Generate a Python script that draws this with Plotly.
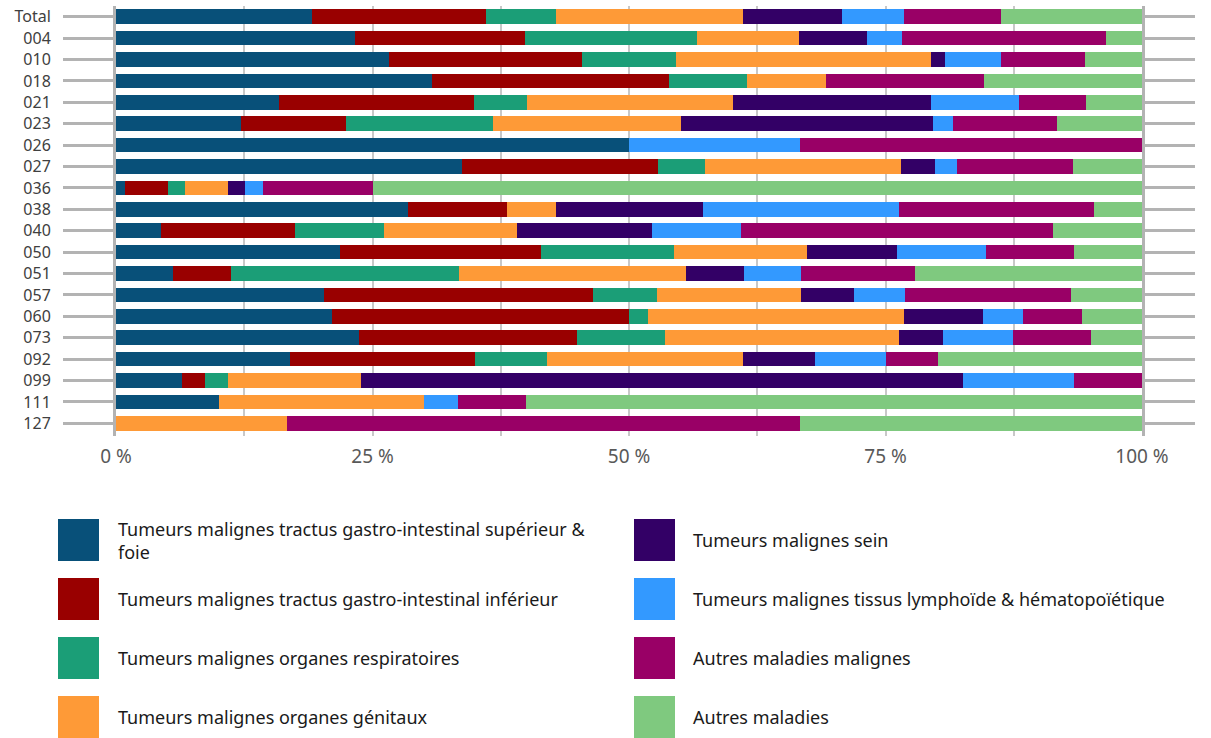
import plotly.graph_objects as go

categories = ["Total", "004", "010", "018", "021", "023", "026", "027", "036", "038",
              "040", "050", "051", "057", "060", "073", "092", "099", "111", "127"]

# share of each cause, in percent, per category
gi_sup = [19.1, 23.3, 26.6, 30.8, 15.9, 12.2, 50.0, 33.7, 0.9, 28.5,
          4.4, 21.8, 5.6, 20.3, 21.1, 23.7, 17.0, 6.4, 10.0, 0]
gi_inf = [17.0, 16.6, 18.8, 23.1, 19.0, 10.2, 0, 19.1, 4.2, 9.6,
          13.0, 19.6, 5.6, 26.2, 28.9, 21.2, 18.0, 2.3, 0, 0]
respir = [6.8, 16.7, 9.2, 7.6, 5.2, 14.3, 0, 4.6, 1.6, 0,
          8.7, 13.0, 22.2, 6.2, 1.9, 8.6, 7.0, 2.2, 0, 0]
genit = [18.2, 10.0, 24.8, 7.7, 20.0, 18.4, 0, 19.1, 4.2, 4.8,
         13.0, 12.9, 22.2, 14.1, 24.9, 22.8, 19.1, 13.0, 20.0, 16.7]
sein = [9.7, 6.6, 1.4, 0, 19.3, 24.5, 0, 3.3, 1.7, 14.3,
        13.1, 8.8, 5.6, 5.1, 7.7, 4.3, 7.0, 58.7, 0, 0]
lymph = [6.0, 3.4, 5.5, 0, 8.6, 2.0, 16.7, 2.2, 1.7, 19.1,
         8.7, 8.7, 5.6, 5.0, 3.9, 6.8, 6.9, 10.8, 3.3, 0]
autres_malignes = [9.5, 19.9, 8.1, 15.4, 6.5, 10.1, 33.3, 11.3, 10.7, 19.0,
                   30.4, 8.6, 11.1, 16.2, 5.8, 7.6, 5.1, 6.6, 6.7, 50.0]
autres = [13.7, 3.5, 5.6, 15.4, 5.5, 8.3, 0, 6.7, 75.0, 4.7,
          8.7, 6.6, 22.2, 6.9, 5.8, 5.0, 19.9, 0, 60.0, 33.3]

series_names = [
    "Tumeurs malignes tractus gastro-intestinal supérieur &<br>foie",
    "Tumeurs malignes tractus gastro-intestinal inférieur",
    "Tumeurs malignes organes respiratoires",
    "Tumeurs malignes organes génitaux",
    "Tumeurs malignes sein",
    "Tumeurs malignes tissus lymphoïde & hématopoïétique",
    "Autres maladies malignes",
    "Autres maladies",
]
series_values = [gi_sup, gi_inf, respir, genit, sein, lymph, autres_malignes, autres]
colors = ["#085079", "#990000", "#1b9e77", "#fe9a37",
          "#330066", "#3399ff", "#990066", "#7fc97f"]

x_ticks = [0, 25, 50, 75, 100]

FONT = "Noto Sans"
W, H = 1211, 738
L, R, T, B = 116, 69, 6, 302
PW, PH = W - L - R, H - T - B


def px_x(px):
    return (px - L) / PW


def px_y(py):
    return (T + PH - py) / PH


fig = go.Figure()
for name, vals, col in zip(series_names, series_values, colors):
    fig.add_trace(go.Bar(
        y=categories, x=vals, name=name, orientation="h",
        marker=dict(color=col, line=dict(width=0)),
        showlegend=False,
    ))

# hand-made legend: two columns of four, big square swatches
shapes, annotations = [], []
for i, (name, col) in enumerate(zip(series_names, colors)):
    c, r = divmod(i, 4)
    x0 = [58, 634][c]
    y0 = 519 + 59 * r
    shapes.append(dict(type="rect", xref="paper", yref="paper",
                       x0=px_x(x0), x1=px_x(x0 + 41), y0=px_y(y0), y1=px_y(y0 + 42),
                       fillcolor=col, line=dict(width=0)))
    annotations.append(dict(xref="paper", yref="paper", x=px_x([116, 691][c]), y=px_y(y0 + 21),
                            text=name, showarrow=False, xanchor="left", yanchor="middle",
                            align="left", font=dict(family=FONT, size=18, color="#1a1a1a")))

fig.update_layout(
    width=W, height=H,
    margin=dict(l=L, r=R, t=T, b=B),
    barmode="stack", bargap=0.32,
    plot_bgcolor="white", paper_bgcolor="white",
    font=dict(family=FONT, size=16, color="#404040"),
    shapes=shapes, annotations=annotations,
)
fig.update_xaxes(
    range=[0, 100], tickvals=x_ticks, ticktext=[f"{v} %" for v in x_ticks],
    showgrid=True, gridcolor="#c8c8c8", gridwidth=2,
    minor=dict(dtick=12.5, tick0=0, showgrid=True, gridcolor="#c8c8c8", gridwidth=2),
    zeroline=False, showline=False, ticks="", ticklabelstandoff=7,
    tickfont=dict(size=19, color="#595959"),
)
fig.update_yaxes(
    categoryorder="array", categoryarray=categories,
    tickmode="array", tickvals=categories,
    range=[19.59, -0.5], showgrid=False, zeroline=False,
    showline=True, linecolor="#b3b3b3", linewidth=3, mirror="ticks",
    ticks="outside", ticklen=50, tickwidth=3, tickcolor="#b3b3b3",
    ticklabelstandoff=9,
    tickfont=dict(size=16, color="#404040"),
)

fig.write_html("out.html", config={"displayModeBar": False},
               post_script="document.body.style.margin='0';")
